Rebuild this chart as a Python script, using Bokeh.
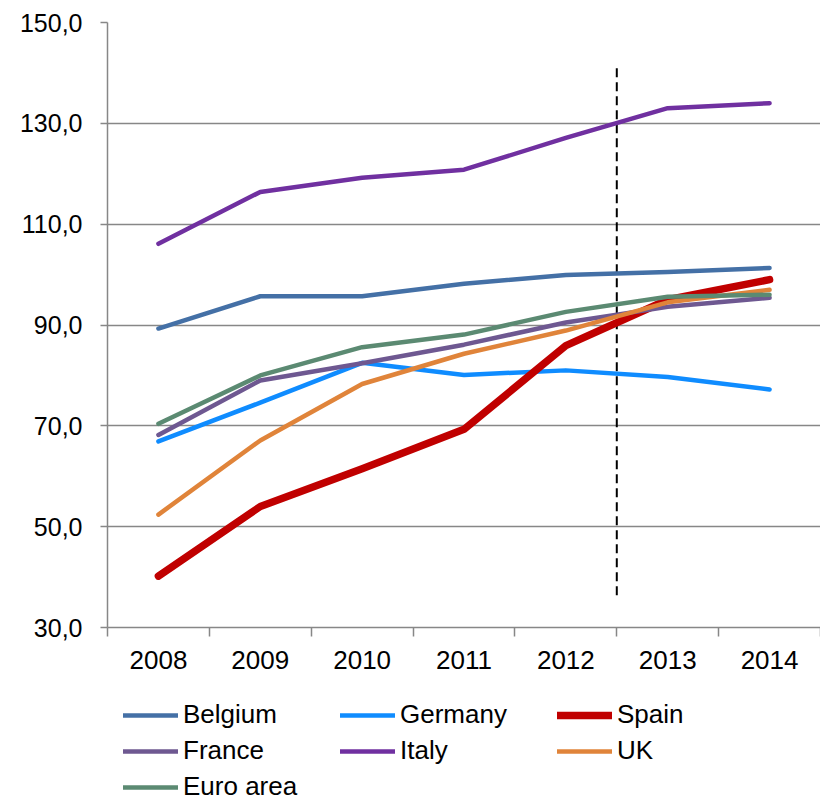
from bokeh.plotting import figure
from bokeh.layouts import column
from bokeh.models import Range1d, FixedTicker, Legend, LegendItem, CustomJSTickFormatter
from bokeh.embed import file_html
from bokeh.resources import INLINE

# ---------------- data ----------------
years = ["2008", "2009", "2010", "2011", "2012", "2013", "2014"]

belgium = [89.3, 95.7, 95.7, 98.2, 99.9, 100.5, 101.3]
germany = [66.9, 74.6, 82.5, 80.1, 81.0, 79.7, 77.2]
spain = [40.2, 54.0, 61.5, 69.3, 85.9, 95.0, 99.0]
france = [68.2, 79.0, 82.4, 86.1, 90.5, 93.6, 95.4]
italy = [106.1, 116.4, 119.2, 120.8, 127.1, 133.0, 134.0]
uk = [52.4, 67.1, 78.3, 84.3, 88.9, 94.5, 97.0]
euro_area = [70.4, 80.0, 85.6, 88.1, 92.6, 95.6, 96.0]

y_ticks = [30, 50, 70, 90, 110, 130, 150]
last_actual_year = "2012"          # forecast starts after this year
forecast_line_y = [36.4, 141.2]    # extent of the dashed separator

series = [
    ("Belgium", belgium, "#4470a6", 4.5),
    ("Germany", germany, "#0f8cff", 4.5),
    ("Spain", spain, "#c00000", 7.5),
    ("France", france, "#6e5891", 4.5),
    ("Italy", italy, "#7030a0", 4.5),
    ("UK", uk, "#e0843a", 4.5),
    ("Euro area", euro_area, "#5b8a72", 4.5),
]

# ---------------- main chart ----------------
FONT = "Liberation Sans"
GRAY = "#878787"

xs = [i + 0.5 for i in range(len(years))]

p = figure(width=820, height=680,
           x_range=Range1d(0, len(years)), y_range=Range1d(30, 150),
           output_backend="svg", toolbar_location=None,
           min_border_left=107, min_border_right=0, min_border_top=22,
           min_border_bottom=53)

p.outline_line_color = None
p.background_fill_color = "white"

# x axis: labels at category centres, ticks at category boundaries
p.xaxis.ticker = FixedTicker(ticks=xs, minor_ticks=list(range(0, len(years) + 1)))
p.xaxis.formatter = CustomJSTickFormatter(args=dict(years=years),
                                          code="return years[Math.floor(tick)];")
p.xaxis.major_tick_out = 0
p.xaxis.major_tick_in = 0
p.xaxis.minor_tick_out = 9
p.xaxis.minor_tick_in = 0
p.xaxis.minor_tick_line_color = GRAY
p.xaxis.minor_tick_line_width = 1.5
p.xaxis.axis_line_color = GRAY
p.xaxis.axis_line_width = 1.5
p.xaxis.major_label_text_font = FONT
p.xaxis.major_label_text_font_size = "26px"
p.xaxis.major_label_text_color = "black"
p.xaxis.major_label_standoff = 14

# y axis
p.yaxis.ticker = FixedTicker(ticks=y_ticks, minor_ticks=[])
p.yaxis.formatter = CustomJSTickFormatter(code="return tick.toFixed(1).replace('.', ',');")
p.yaxis.major_tick_out = 7
p.yaxis.major_tick_in = 0
p.yaxis.major_tick_line_color = GRAY
p.yaxis.major_tick_line_width = 1.5
p.yaxis.axis_line_color = GRAY
p.yaxis.axis_line_width = 1.5
p.yaxis.major_label_text_font = FONT
p.yaxis.major_label_text_font_size = "25px"
p.yaxis.major_label_text_color = "black"
p.yaxis.major_label_standoff = 18

p.xgrid.visible = False
p.ygrid.ticker = FixedTicker(ticks=y_ticks, minor_ticks=[])
p.ygrid.grid_line_color = GRAY
p.ygrid.grid_line_width = 1.5

# dashed separator between actual and forecast years
boundary = years.index(last_actual_year) + 1
p.line(x=[boundary, boundary], y=forecast_line_y, line_color="black",
       line_width=2, line_dash="9 5")

for name, vals, color, lw in series:
    p.line(xs, vals, line_color=color, line_width=lw,
           line_cap="round", line_join="round")

# ---------------- legend strip (same series, ranges keep lines off-frame) ----------------
lg = figure(width=820, height=121, x_range=Range1d(1000, 1001), y_range=Range1d(1000, 1001),
            output_backend="svg", toolbar_location=None,
            x_axis_location=None, y_axis_location=None,
            min_border_left=0, min_border_right=0, min_border_top=0, min_border_bottom=0)
lg.outline_line_color = None
lg.xgrid.visible = False
lg.ygrid.visible = False

items = []
for name, vals, color, lw in series:
    r = lg.line(xs, vals, line_color=color, line_width=lw, line_cap="round")
    items.append(LegendItem(label=name, renderers=[r]))

legend = Legend(items=items, location=(16, -1), orientation="horizontal", ncols=3,
                glyph_width=55, glyph_height=28, label_height=28, label_width=152,
                label_standoff=5, spacing=5, padding=0, margin=0,
                border_line_color=None, background_fill_alpha=0,
                label_text_font=FONT, label_text_font_size="26px",
                label_text_color="black")
lg.add_layout(legend, "center")

layout = column(p, lg, spacing=0)
open("out.html", "w").write(file_html(layout, INLINE))
